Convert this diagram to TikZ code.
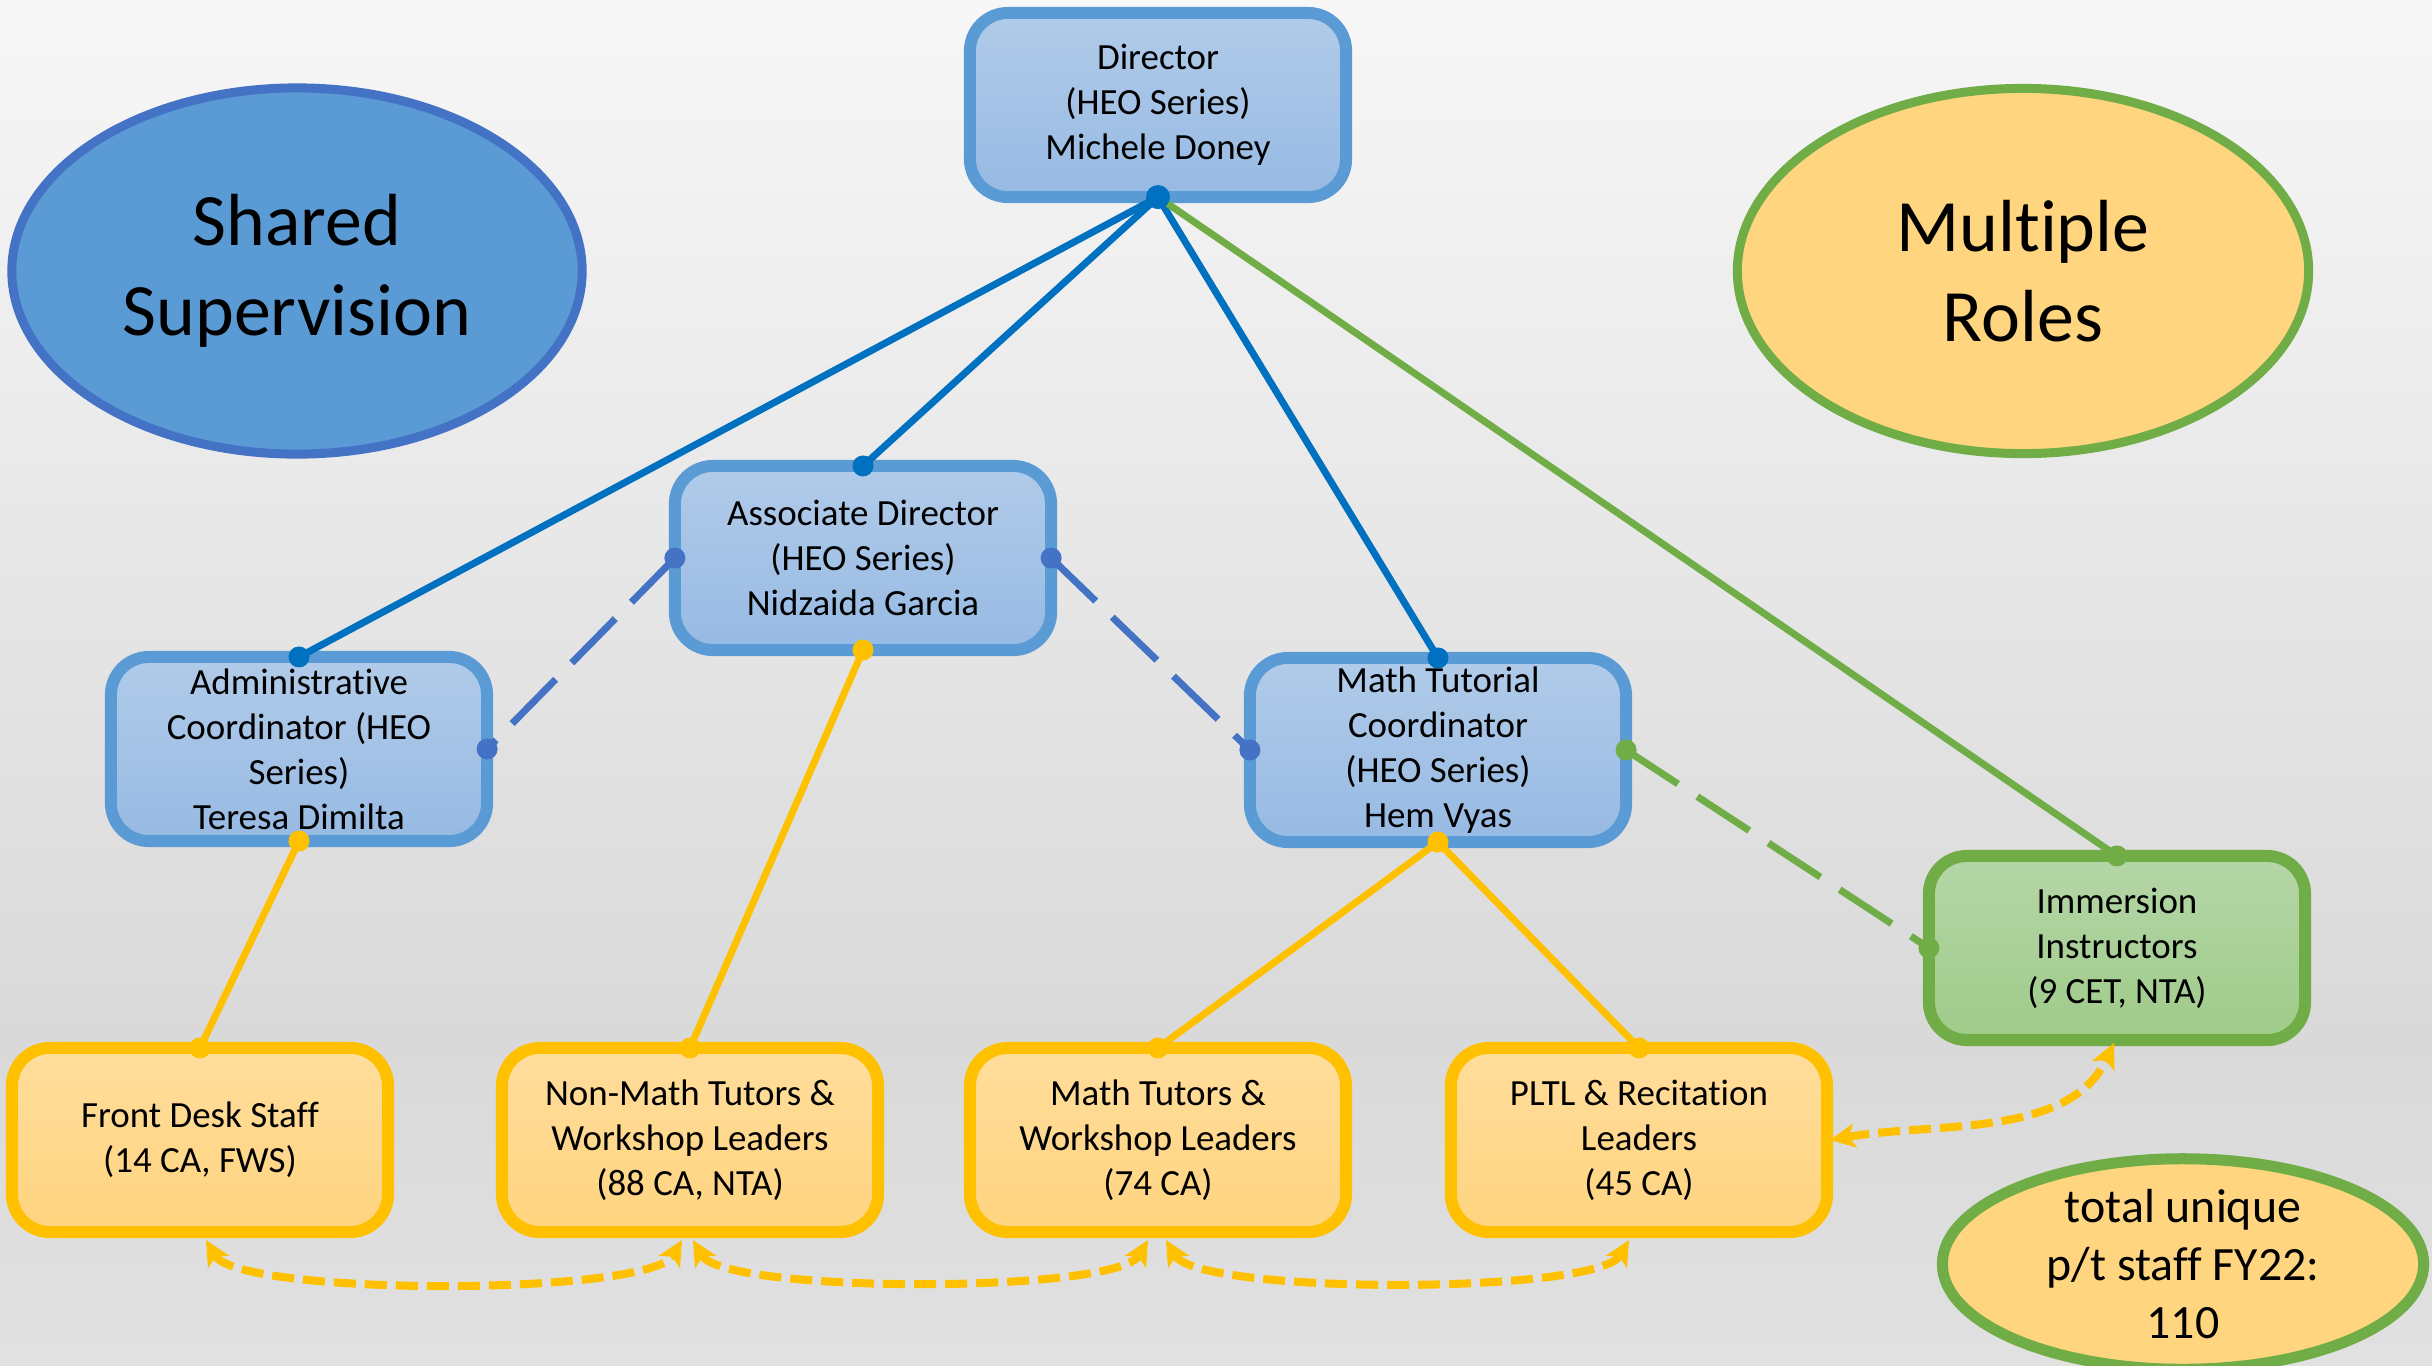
\documentclass[tikz,border=0pt]{standalone}
\usepackage{fontspec}
\setmainfont{Carlito}[Ligatures=NoCommon]
\usetikzlibrary{shapes.geometric, arrows.meta}

\definecolor{bgtop}{HTML}{F7F7F7}
\definecolor{bgmid}{HTML}{D9D9D9}
\definecolor{bgbot}{HTML}{E1E1E1}
\definecolor{boxblue}{HTML}{5B9BD5}
\definecolor{bluetop}{HTML}{B1CBE9}
\definecolor{bluebot}{HTML}{97BAE3}
\definecolor{linkblue}{HTML}{0070C0}
\definecolor{dashblue}{HTML}{4472C4}
\definecolor{amber}{HTML}{FFC000}
\definecolor{ambertop}{HTML}{FFDD9C}
\definecolor{amberbot}{HTML}{FFD47F}
\definecolor{leaf}{HTML}{70AD47}
\definecolor{leaftop}{HTML}{B5D6A7}
\definecolor{leafbot}{HTML}{9FCB8A}
\definecolor{peach}{HTML}{FFD580}

\pgfdeclareverticalshading{slidebg}{100bp}{color(0bp)=(bgbot); color(25bp)=(bgbot); color(37bp)=(bgmid); color(75bp)=(bgtop); color(100bp)=(bgtop)}

\begin{document}
\begin{tikzpicture}[x=0.01cm, y=0.01cm,
    every node/.style={font=\fontsize{10.5}{12.8}\selectfont, align=center},
    box/.style={rectangle, rounded corners=0.38cm, line width=0.12cm, outer sep=0pt, minimum width=3.76cm, minimum height=1.84cm, inner sep=2pt},
    bluebox/.style={box, draw=boxblue, top color=bluetop, bottom color=bluebot},
    amberbox/.style={box, draw=amber, top color=ambertop, bottom color=amberbot},
    leafbox/.style={box, draw=leaf, top color=leaftop, bottom color=leafbot},
    bubble/.style={ellipse, inner sep=0pt, outer sep=0pt},
    link/.style={line width=0.07cm},
    longdash/.style={link, dash pattern=on 0.62cm off 0.23cm},
    twoway/.style={line width=0.08cm, amber, dash pattern=on 0.22cm off 0.09cm, {Stealth[length=0.25cm, width=0.24cm, inset=0.06cm]}-{Stealth[length=0.25cm, width=0.24cm, inset=0.06cm]}}
]
\shade[shading=slidebg] (0,0) rectangle (2432,-1366);
\useasboundingbox (0,0) rectangle (2432,-1366);

% labels at the sides
\node[bubble, draw=dashblue, line width=0.09cm, fill=boxblue, minimum width=5.7cm, minimum height=3.66cm,
      font=\fontsize{21}{25.6}\selectfont] (shared) at (297,-271) {Shared\\Supervision};
\node[bubble, draw=leaf, line width=0.09cm, fill=peach, minimum width=5.71cm, minimum height=3.65cm,
      font=\fontsize{21}{25.6}\selectfont] (multi) at (2023,-271) {Multiple\\Roles};
\node[bubble, draw=leaf, line width=0.11cm, fill=peach, minimum width=4.81cm, minimum height=1.85cm,
      font=\fontsize{13.6}{16.4}\selectfont] (total) at (2183,-1264) {total unique\\p/t staff FY22:\\110};

% boxes
\node[bluebox] (dir)  at (1158,-105) {Director\\(HEO Series)\\Michele Doney};
\node[bluebox] (ad)   at (863,-558)  {Associate Director\\(HEO Series)\\Nidzaida Garcia};
\node[bluebox] (adm)  at (299,-749)  {Administrative\\Coordinator (HEO\\Series)\\Teresa Dimilta};
\node[bluebox] (mtc)  at (1438,-750) {Math Tutorial\\Coordinator\\(HEO Series)\\Hem Vyas};
\node[leafbox] (imm)  at (2117,-948) {Immersion\\Instructors\\(9 CET, NTA)};
\node[amberbox] (fd)   at (200,-1140)  {Front Desk Staff\\(14 CA, FWS)};
\node[amberbox] (nm)   at (690,-1140)  {Non-Math Tutors \&\\Workshop Leaders\\(88 CA, NTA)};
\node[amberbox] (mt)   at (1158,-1140) {Math Tutors \&\\Workshop Leaders\\(74 CA)};
\node[amberbox] (pltl) at (1639,-1140) {PLTL \& Recitation\\Leaders\\(45 CA)};

% supervision lines
\draw[link, linkblue] (dir.south) -- (adm.north);
\draw[link, linkblue] (dir.south) -- (ad.north);
\draw[link, linkblue] (dir.south) -- (mtc.north);
\draw[link, leaf]     (dir.south) -- (imm.north);
\draw[longdash, dashblue] (ad.west) -- (adm.east);
\draw[longdash, dashblue] (ad.east) -- (mtc.west);
\draw[longdash, leaf]     (mtc.east) -- (imm.west);
\draw[link, amber] (adm.south) -- (fd.north);
\draw[link, amber] (ad.south)  -- (nm.north);
\draw[link, amber] (mtc.south) -- (mt.north);
\draw[link, amber] (mtc.south) -- (pltl.north);

\fill[linkblue] (dir.south) circle (0.12cm);
\fill[linkblue] (adm.north) circle (0.105cm);
\fill[linkblue] (ad.north)  circle (0.105cm);
\fill[linkblue] (mtc.north) circle (0.105cm);
\fill[leaf]     (imm.north) circle (0.105cm);
\fill[dashblue] (ad.west)   circle (0.105cm);
\fill[dashblue] (adm.east)  circle (0.105cm);
\fill[dashblue] (ad.east)   circle (0.105cm);
\fill[dashblue] (mtc.west)  circle (0.105cm);
\fill[leaf]     (mtc.east)  circle (0.105cm);
\fill[leaf]     (imm.west)  circle (0.105cm);
\fill[amber] (adm.south)  circle (0.105cm);
\fill[amber] (fd.north)   circle (0.105cm);
\fill[amber] (ad.south)   circle (0.105cm);
\fill[amber] (nm.north)   circle (0.105cm);
\fill[amber] (mtc.south)  circle (0.105cm);
\fill[amber] (mt.north)   circle (0.105cm);
\fill[amber] (pltl.north) circle (0.105cm);

% shared staff
\draw[twoway] ([xshift=0.06cm, yshift=-0.08cm]fd.south) to[out=-60, in=-120, looseness=0.35] ([xshift=-0.08cm, yshift=-0.08cm]nm.south);
\draw[twoway] ([xshift=0.03cm, yshift=-0.08cm]nm.south) to[out=-60, in=-120, looseness=0.35] ([xshift=-0.1cm, yshift=-0.08cm]mt.south);
\draw[twoway] ([xshift=0.08cm, yshift=-0.08cm]mt.south) to[out=-60, in=-120, looseness=0.35] ([xshift=-0.1cm, yshift=-0.08cm]pltl.south);
\draw[twoway] ([xshift=0.03cm]pltl.east) to[out=10, in=-115, looseness=0.9] ([xshift=-0.03cm, yshift=-0.03cm]imm.south);
\end{tikzpicture}
\end{document}
